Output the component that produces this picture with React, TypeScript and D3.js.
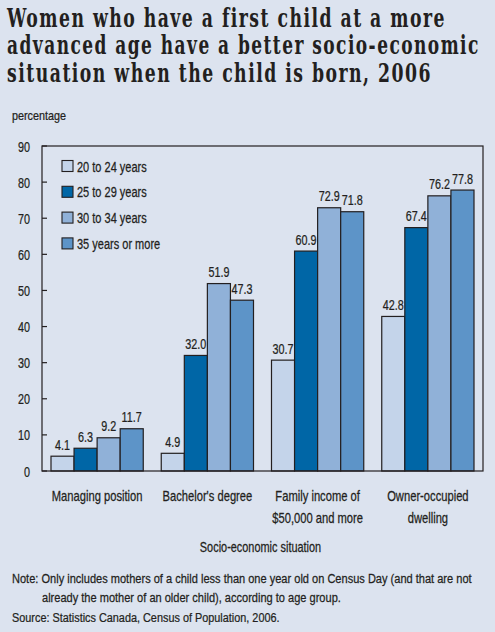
import React, { useLayoutEffect, useRef, useState } from "react";
import * as d3 from "d3";

const titleLines = [
  "Women who have a first child at a more",
  "advanced age have a better socio-economic",
  "situation when the child is born, 2006",
];
const titleWidths = [439, 473, 425];
const categories = [
  ["Managing position"],
  ["Bachelor's degree"],
  ["Family income of", "$50,000 and more"],
  ["Owner-occupied", "dwelling"],
];
const seriesNames = ["20 to 24 years", "25 to 29 years", "30 to 34 years", "35 years or more"];
const s20to24 = [4.1, 4.9, 30.7, 42.8];
const s25to29 = [6.3, 32.0, 60.9, 67.4];
const s30to34 = [9.2, 51.9, 72.9, 76.2];
const s35plus = [11.7, 47.3, 71.8, 77.8];
const seriesValues = [s20to24, s25to29, s30to34, s35plus];
const colors = ["#c4d4ea", "#0066a6", "#90b1d8", "#5d94c8"];
const yTicks = [0, 10, 20, 30, 40, 50, 60, 70, 80, 90];
const noteLines = [
  "Note: Only includes mothers of a child less than one year old on Census Day (and that are not",
  "already the mother of an older child), according to age group.",
];
const sourceLine = "Source: Statistics Canada, Census of Population, 2006.";

const W = 495;
const H = 632;
const font = "'Liberation Sans', Arial, sans-serif";
const ink = "#231f20";

type TProps = {
  x: number;
  y: number;
  size: number;
  sx: number;
  anchor?: "start" | "middle" | "end";
  children: React.ReactNode;
};
function T({ x, y, size, sx, anchor = "start", children }: TProps) {
  return (
    <g transform={`translate(${x},${y}) scale(${sx},1)`}>
      <text
        x={0}
        y={0}
        fontSize={size}
        textAnchor={anchor}
        fill={ink}
        stroke={ink}
        strokeWidth={0.25}
        fontFamily={font}
      >
        {children}
      </text>
    </g>
  );
}

function TitleLine({ text, x, y, width }: { text: string; x: number; y: number; width: number }) {
  const ref = useRef<SVGTextElement>(null);
  const [sx, setSx] = useState(0.75);
  useLayoutEffect(() => {
    if (ref.current) {
      const len = ref.current.getComputedTextLength();
      if (len > 0) setSx(width / len);
    }
  }, [text, width]);
  return (
    <g transform={`translate(${x},${y}) scale(${sx},1)`}>
      <text
        ref={ref}
        x={0}
        y={0}
        fontFamily="'DejaVu Serif Condensed', 'DejaVu Serif', serif"
        fontWeight="bold"
        fontSize={26}
        letterSpacing={2}
        fill={ink}
      >
        {text}
      </text>
    </g>
  );
}

export default function App() {
  const left = 42, right = 483, top = 146, bottom = 471;
  const y = d3.scaleLinear().domain([0, 90]).range([bottom, top]);
  const x0 = d3.scaleBand<number>().domain(d3.range(categories.length)).range([left, right]).padding(0);
  const pad = 9;
  const x1 = d3
    .scaleBand<number>()
    .domain(d3.range(seriesNames.length))
    .range([pad, x0.bandwidth() - pad])
    .padding(0);
  const fmt = d3.format(".1f");

  return (
    <svg
      width={W}
      height={H}
      style={{ position: "absolute", left: 0, top: 0, display: "block" }}
    >
      <rect x={0} y={0} width={W} height={H} fill="#dce3ef" />
      {titleLines.map((t, i) => (
        <TitleLine key={i} text={t} x={7} y={27 + i * 27.3} width={titleWidths[i]} />
      ))}
      <T x={12} y={120} size={13} sx={0.83}>percentage</T>

      {/* bars */}
      {categories.map((_, ci) =>
        seriesValues.map((vals, si) => {
          const bx = (x0(ci) as number) + (x1(si) as number);
          const v = vals[ci];
          return (
            <g key={`${ci}-${si}`}>
              <rect
                x={bx}
                y={y(v)}
                width={x1.bandwidth()}
                height={bottom - y(v)}
                fill={colors[si]}
                stroke={ink}
                strokeWidth={1.2}
              />
              <T x={bx + x1.bandwidth() / 2} y={y(v) - 6.5} size={15} sx={0.72} anchor="middle">
                {fmt(v)}
              </T>
            </g>
          );
        })
      )}

      {/* frame */}
      <rect x={left} y={top} width={right - left} height={bottom - top} fill="none" stroke={ink} strokeWidth={1.2} />

      {/* y ticks */}
      {yTicks.map((t) => (
        <g key={t}>
          <line x1={left} x2={left + 5} y1={y(t)} y2={y(t)} stroke={ink} strokeWidth={1.2} />
          <T x={30} y={y(t) + 5.5} size={15} sx={0.72} anchor="end">
            {t}
          </T>
        </g>
      ))}

      {/* legend */}
      {seriesNames.map((s, i) => (
        <g key={s} transform={`translate(62, ${160.5 + i * 25.8})`}>
          <rect x={0} y={0} width={11} height={11} fill={colors[i]} stroke={ink} strokeWidth={1.1} />
          <T x={15} y={11} size={14.5} sx={0.76}>
            {s}
          </T>
        </g>
      ))}

      {/* category labels */}
      {categories.map((lines, ci) =>
        lines.map((l, li) => (
          <T
            key={`${ci}-${li}`}
            x={(x0(ci) as number) + x0.bandwidth() / 2}
            y={501 + li * 22}
            size={14}
            sx={0.8}
            anchor="middle"
          >
            {l}
          </T>
        ))
      )}
      <T x={(left + right) / 2 - 2} y={552} size={14} sx={0.78} anchor="middle">
        Socio-economic situation
      </T>

      <T x={12} y={583} size={13.5} sx={0.818}>{noteLines[0]}</T>
      <T x={42} y={601.5} size={13.5} sx={0.818}>{noteLines[1]}</T>
      <T x={12} y={621.5} size={13.5} sx={0.805}>{sourceLine}</T>
    </svg>
  );
}
